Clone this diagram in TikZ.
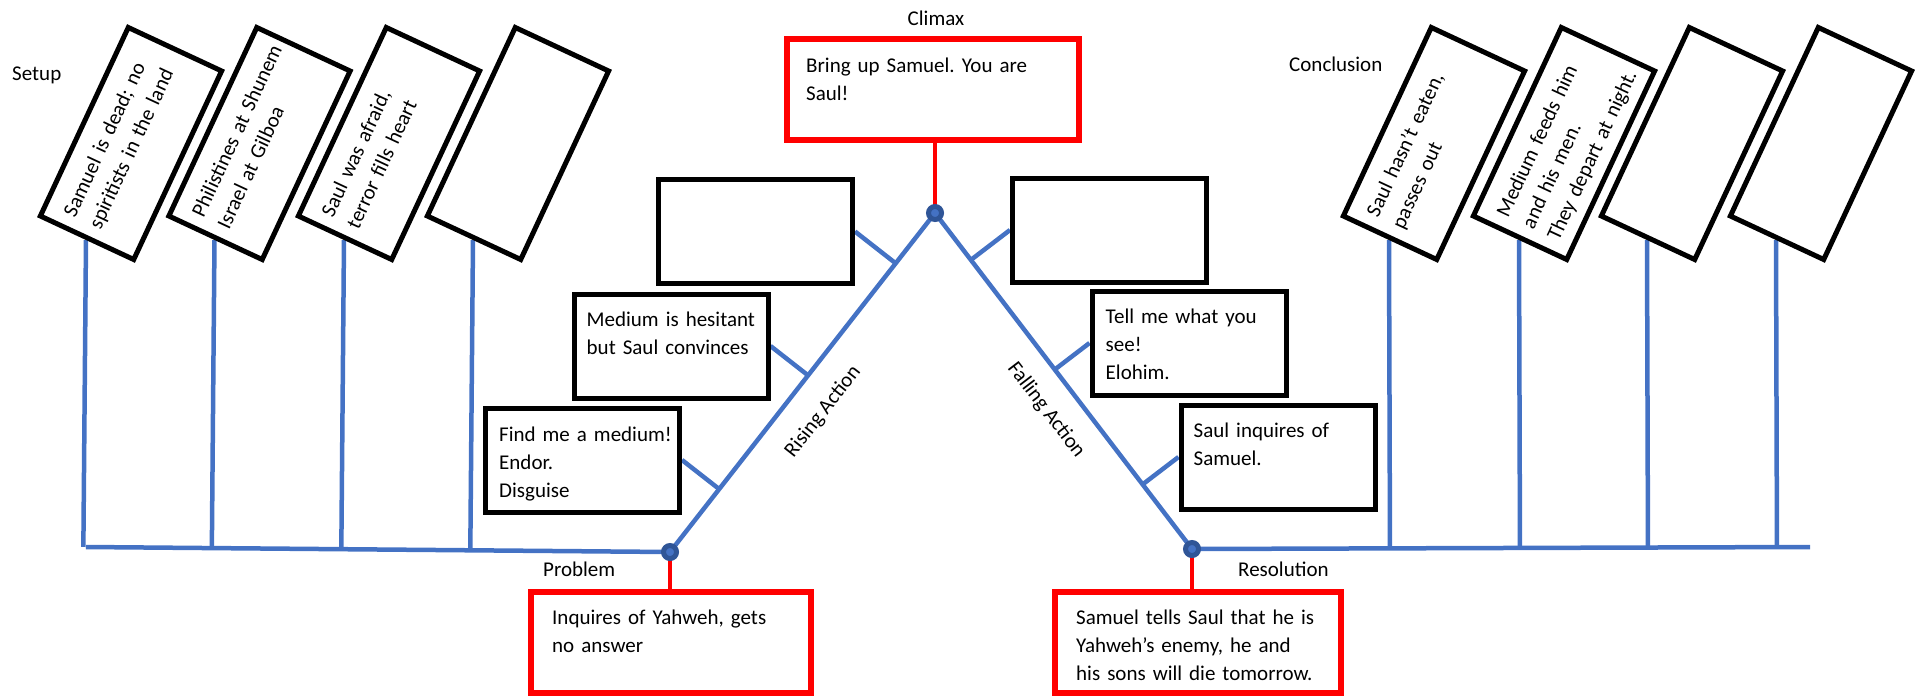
\documentclass[tikz,border=0pt]{standalone}
\usepackage{fontspec}
\setmainfont{Carlito}
\usetikzlibrary{calc,backgrounds}
\definecolor{lineblue}{RGB}{68,114,196}
\definecolor{dotblue}{RGB}{47,85,151}
\definecolor{boxred}{RGB}{255,0,0}
\frenchspacing
\newcommand{\tiltcard}[4]{%
  \begin{scope}[shift={(#2,#3)}, rotate=65]
    \node[tiltbox] (#1) at (0,0) {};
    \node[boxtext, text width=190pt, transform shape] (#1t) at (-91.5,-19) {#4};
  \end{scope}}
\newcommand{\tiltempty}[3]{%
  \begin{scope}[shift={(#2,#3)}, rotate=65]
    \node[tiltbox] (#1) at (0,0) {};
  \end{scope}}
\begin{document}
\begin{tikzpicture}[x=1pt,y=-1pt,
  every node/.style={font=\fontsize{21}{28}\selectfont, inner sep=0pt},
  blackbox/.style={draw=black, line width=5pt, fill=white, minimum width=194pt, minimum height=104pt},
  redbox/.style={draw=boxred, line width=6pt, fill=white, minimum height=101pt},
  tiltbox/.style={draw=black, line width=5pt, fill=white, minimum width=208pt, minimum height=103pt, transform shape},
  boxtext/.style={anchor=base west, align=left, text width=176pt},
  blueline/.style={draw=lineblue, line width=4.5pt},
  redline/.style={draw=boxred, line width=4.5pt},
  plotdot/.style={circle, fill=lineblue, draw=dotblue, line width=5pt, minimum size=13pt},
  lbl/.style={anchor=base west}
]
\useasboundingbox (0,0) rectangle (1917,699);

% labels
\node[lbl] (setup) at (12,80) {Setup};
\node[lbl] (concl) at (1289,71) {Conclusion};
\node[anchor=base] (climlbl) at (936,25) {Climax};
\node[lbl] (problbl) at (543,576) {Problem};
\node[lbl] (reslbl) at (1238,576) {Resolution};
\node[rotate=52] (rise) at (823,412) {Rising Action};
\node[rotate=-52.6] (fall) at (1046,410) {Falling Action};

% tilted setup / conclusion cards
\tiltcard{s1}{131}{143.5}{Samuel is dead; no\\spiritists in the land}
\tiltcard{s2}{259.5}{143.5}{Philistines at Shunem\\Israel at Gilboa}
\tiltcard{s3}{389}{143.5}{Saul was afraid,\\terror fills heart}
\tiltempty{s4}{518}{143.5}
\tiltcard{c1}{1434}{143.5}{Saul hasn’t eaten,\\passes out}
\tiltcard{c2}{1564}{143.5}{Medium feeds him\\and his men.\\They depart at night.}
\tiltempty{c3}{1692}{143.5}
\tiltempty{c4}{1821}{143.5}

% rising action boxes
\node[blackbox] (b1) at (755.5,231.5) {};
\node[blackbox] (b2) at (671,346) {};
\node[boxtext] (b2t) at ($(b2.north west)+(15,35)$) {Medium is hesitant\\but Saul convinces};
\node[blackbox] (b3) at (582.5,460) {};
\node[boxtext] (b3t) at ($(b3.north west)+(16,36)$) {Find me a medium!\\Endor.\\Disguise};

% falling action boxes
\node[blackbox] (f1) at (1109.5,230) {};
\node[blackbox] (f2) at (1189,343) {};
\node[boxtext] (f2t) at ($(f2.north west)+(16,35)$) {Tell me what you\\see!\\Elohim.};
\node[blackbox] (f3) at (1278,457) {};
\node[boxtext] (f3t) at ($(f3.north west)+(15,35)$) {Saul inquires of\\Samuel.};

% red boxes
\node[redbox, minimum width=292pt] (clim) at (933,89.5) {};
\node[boxtext, text width=255pt] (climt) at ($(clim.north west)+(22,36)$) {Bring up Samuel. You are\\Saul!};
\node[redbox, minimum width=280pt] (prob) at (671,642.5) {};
\node[boxtext, text width=245pt] (probt) at ($(prob.north west)+(24,35)$) {Inquires of Yahweh, gets\\no answer};
\node[redbox, minimum width=286pt] (res) at (1198,642.5) {};
\node[boxtext, text width=250pt] (rest) at ($(res.north west)+(24,35)$) {Samuel tells Saul that he is\\Yahweh’s enemy, he and\\his sons will die tomorrow.};

% plot points
\coordinate (L0) at (86,547);
\coordinate (R0) at (1810,547);
\node[plotdot] (P) at (670,552) {};
\node[plotdot] (C) at (935,213) {};
\node[plotdot] (R) at (1192,549) {};

\begin{pgfonlayer}{background}
  \draw[blueline] (L0) -- (P.center) -- (C.center) -- (R.center) -- (R0);
  \foreach \s in {s1,s2,s3,s4}
    \draw[blueline] (\s.west) -- ($(L0)!(\s.west)!(P)$);
  \foreach \s in {c1,c2,c3,c4}
    \draw[blueline] (\s.west) -- ($(R)!(\s.west)!(R0)$);
  \foreach \b in {b1,b2,b3}
    \draw[blueline] (\b.east) -- ($(P)!(\b.east)!(C)$);
  \foreach \b in {f1,f2,f3}
    \draw[blueline] (\b.west) -- ($(C)!(\b.west)!(R)$);
  \draw[redline] (C.center |- clim.south) -- (C.center);
  \draw[redline] (P.center) -- (P.center |- prob.north);
  \draw[redline] (R.center) -- (R.center |- res.north);
\end{pgfonlayer}
\end{tikzpicture}
\end{document}
